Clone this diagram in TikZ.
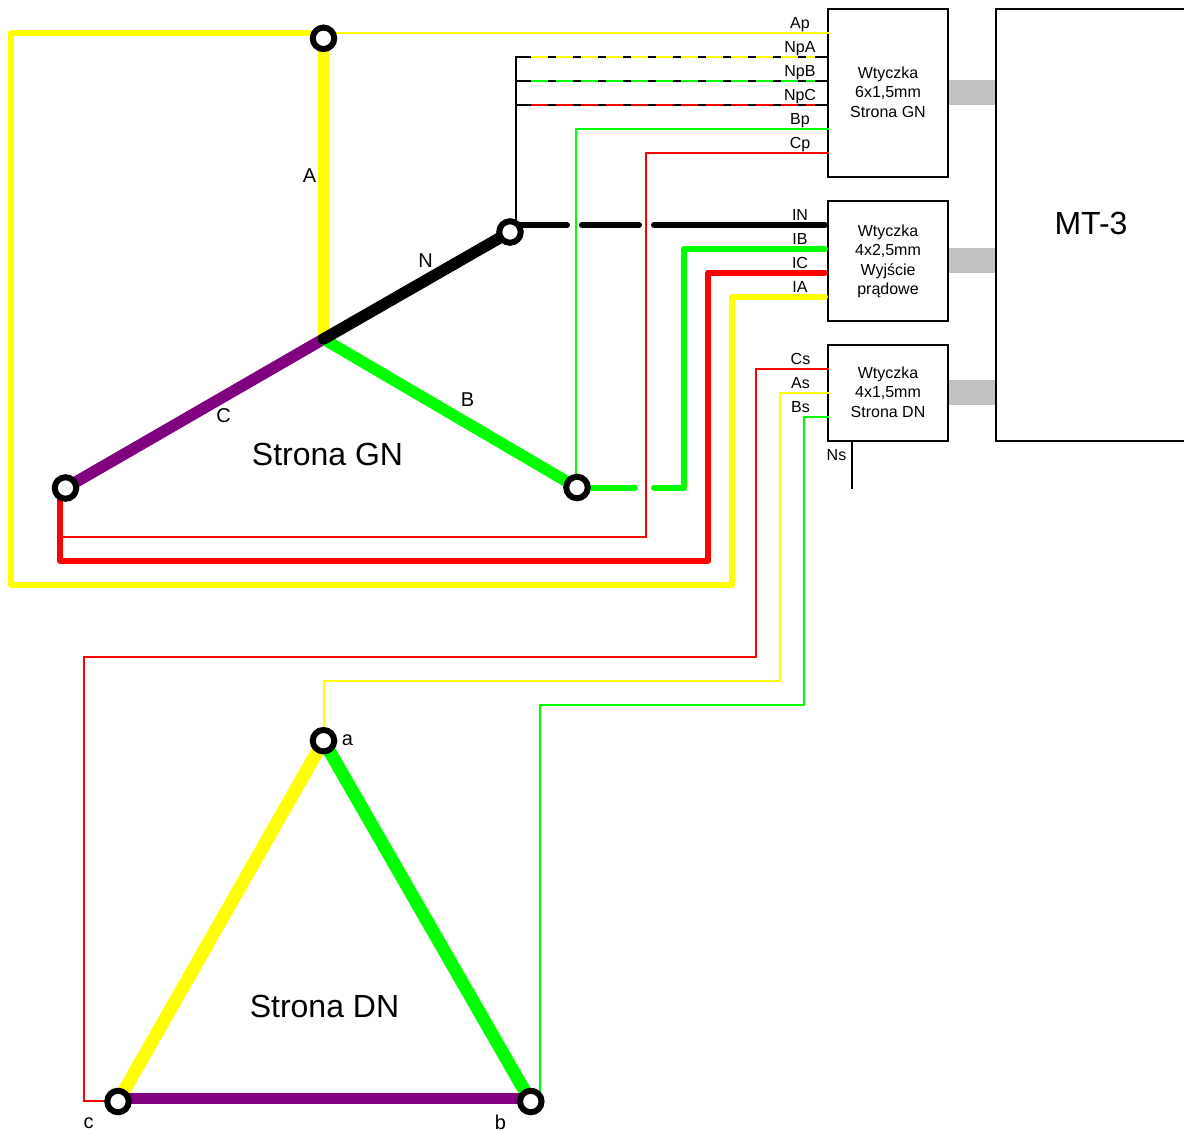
\documentclass[tikz,border=0pt]{standalone}
\usepackage{fontspec}
\setmainfont{Liberation Sans}
\pgfdeclarelayer{front}
\pgfsetlayers{main,front}
\tikzset{
  boxnode/.style={draw=black,line width=2pt,fill=white,inner sep=0pt},
  boxtext/.style={inner sep=0pt,align=center,font=\fontsize{16}{19.3}\selectfont},
  barnode/.style={fill=barcol,draw=none,inner sep=0pt,minimum width=48pt,minimum height=25pt},
  term/.style={circle,draw=black,fill=white,line width=6pt,minimum size=21.5pt,inner sep=0pt},
  port/.style={inner sep=0pt,font=\fontsize{16}{16}\selectfont},
  phase/.style={inner sep=0pt,font=\fontsize{20}{20}\selectfont},
  title/.style={inner sep=0pt,font=\fontsize{32}{32}\selectfont},
  thinw/.style={line width=2pt,line join=miter},
  thickw/.style={line width=6pt,line join=round,line cap=round},
  coil/.style={line width=11.5pt,line cap=round},
  coilb/.style={line width=13pt,line cap=round},
  npdash/.style={line width=2pt,dash pattern=on 17pt off 8pt},
}
\definecolor{barcol}{HTML}{C0C0C0}
\definecolor{ph}{HTML}{800080}
\definecolor{yel}{HTML}{FFFF00}
\definecolor{grn}{HTML}{00FF00}
\definecolor{rd}{HTML}{FF0000}
\begin{document}
\begin{tikzpicture}[x=1pt,y=-1pt]
\clip (0,0) rectangle (1184,1130);
% gray links
\node[barnode] (l1) at (972,92.5) {};
\node[barnode] (l2) at (972,260.5) {};
\node[barnode] (l3) at (972,392.5) {};
% boxes
\node[boxnode,minimum width=120pt,minimum height=168pt] (gn) at (888,93) {};
\node[boxnode,minimum width=120pt,minimum height=120pt] (io) at (888,261) {};
\node[boxnode,minimum width=120pt,minimum height=96pt] (dn) at (888,393) {};
\node[boxnode,minimum width=190pt,minimum height=432pt] (mt) at (1091,225) {};
\node[boxtext] (gnT) at (888,92) {Wtyczka\\6x1,5mm\\Strona GN};
\node[boxtext] (ioT) at (888,261.5) {Wtyczka\\4x2,5mm\\Wyjście\\prądowe};
\node[boxtext] (dnT) at (888,392) {Wtyczka\\4x1,5mm\\Strona DN};
\node[title] (mtT) at (1091,223) {MT-3};
% terminals
\begin{pgfonlayer}{front}
\node[term] (tA) at (323.5,38.3) {};
\node[term] (tN) at (510,232) {};
\node[term] (tC) at (65.5,488) {};
\node[term] (tB) at (577,487.5) {};
\node[term] (ta) at (323.5,740.7) {};
\node[term] (tc) at (118,1101.5) {};
\node[term] (tb) at (530.8,1101.5) {};
\end{pgfonlayer}
\coordinate (star) at (323.5,339);
% points hidden under the terminals
\coordinate (tCleft) at (60,488);
\coordinate (tNright) at (516,225);
\coordinate (tNin) at (512,225);
\coordinate (tbright) at (540,1098);
\coordinate (tcleft) at (84,1101);
\coordinate (tcthin) at (118,1101);
\coordinate (tcp) at (118,1098.5);
\coordinate (tbp) at (530.8,1098.5);
% named ports
\coordinate (pAp) at (829,32.5);
\coordinate (pNpA) at (828,57);
\coordinate (pNpB) at (828,81);
\coordinate (pNpC) at (828,105);
\coordinate (pBp) at (829,129);
\coordinate (pCp) at (829,153);
\coordinate (pIN) at (825,225);
\coordinate (pIB) at (825,248.5);
\coordinate (pIC) at (825,272.5);
\coordinate (pIA) at (825,296.5);
\coordinate (pCs) at (829,369);
\coordinate (pAs) at (829,393);
\coordinate (pBs) at (829,417);
\coordinate (pNs) at (852,441);
\coordinate (eNs) at (852,489);
% GN side currents (thick)
\draw[thickw,yel] (tA.center |- pAp) -- (11,32.5) -- (11,584.5) -- (732,584.5) -- (732,296.5) -- (pIA);
\draw[thickw,rd] (tCleft) -- (60,560.7) -- (708,560.7) -- (708,272.5) -- (pIC);
\draw[thickw,grn] (tB.center) -- (635,487.5);
\draw[thickw,grn] (654,487.5) -- (684,487.5) -- (684,248.5) -- (pIB);
\draw[thickw,black] (tNin) -- (567,225);
\draw[thickw,black] (582,225) -- (639,225);
\draw[thickw,black] (654,225) -- (pIN);
% voltage wires (thin)
\draw[thinw,yel] (tA.center |- pAp) -- (pAp);
\draw[thinw,grn] (576,487) -- (576,129) -- (pBp);
\draw[thinw,rd] (tCleft) -- (60,536.7) -- (646,536.7) -- (646,153) -- (pCp);
\draw[thinw,black] (tNright) -- (516,57) -- (pNpA);
\draw[thinw,black] (516,81) -- (pNpB);
\draw[thinw,black] (516,105) -- (pNpC);
\draw[npdash,yel] (531,57) -- (815,57);
\draw[npdash,grn] (531,81) -- (815,81);
\draw[npdash,rd] (531,105) -- (815,105);
\draw[thinw,rd] (pCs) -- (756,369) -- (756,657) -- (84,657) -- (tcleft) -- (tcthin);
\draw[thinw,yel] (pAs) -- (780,393) -- (780,681) -- (323.5,681) -- (ta.center);
\draw[thinw,grn] (pBs) -- (804,417) -- (804,705) -- (540,705) -- (tbright);
\draw[thinw,black] (pNs) -- (eNs);
% windings GN
\draw[coil,yel,line cap=butt] (tA.center) -- (star);
\draw[coil,ph] (tC.center) -- (star);
\draw[coil,grn] (tB.center) -- (star);
\draw[coil,black] (tN.center) -- (star);
% windings DN
\draw[coilb,yel] (ta.center) -- (tc.center);
\draw[coilb,grn] (ta.center) -- (tb.center);
\draw[coil,ph,line cap=butt] (tcp) -- (tbp);
% labels
\node[port] (lAp) at (800,25) {Ap};
\node[port] (lNpA) at (800,49) {NpA};
\node[port] (lNpB) at (800,73) {NpB};
\node[port] (lNpC) at (800,97) {NpC};
\node[port] (lBp) at (800,121) {Bp};
\node[port] (lCp) at (800,145) {Cp};
\node[port] (lIN) at (800,215) {IN};
\node[port] (lIB) at (800,239) {IB};
\node[port] (lIC) at (800,263) {IC};
\node[port] (lIA) at (800,287) {IA};
\node[port] (lCs) at (800.5,359) {Cs};
\node[port] (lAs) at (800.5,383) {As};
\node[port] (lBs) at (800.5,407) {Bs};
\node[port] (lNs) at (836.5,455) {Ns};
\node[phase] (nA) at (309.5,176) {A};
\node[phase] (nN) at (425.5,260.5) {N};
\node[phase] (nB) at (467.5,400) {B};
\node[phase] (nC) at (223.5,416) {C};
\node[phase] (na) at (347.5,740.5) {a};
\node[phase] (nb) at (500.5,1122) {b};
\node[phase] (nc) at (88.5,1123) {c};
\node[title] (sGN) at (327.5,454) {Strona GN};
\node[title] (sDN) at (324.5,1006) {Strona DN};
\end{tikzpicture}
\end{document}
